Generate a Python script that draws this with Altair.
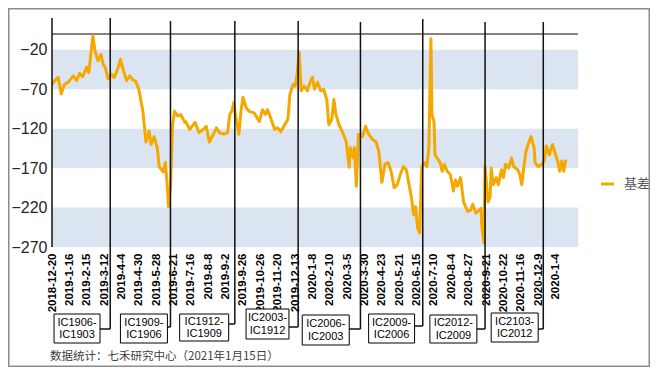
import json
import altair as alt
import pandas as pd

# ---------------- data ----------------
tick_labels = [
    "2018-12-20", "2019-1-16", "2019-2-15", "2019-3-12", "2019-4-4", "2019-4-30",
    "2019-5-28", "2019-6-21", "2019-7-16", "2019-8-8", "2019-9-2", "2019-9-26",
    "2019-10-26", "2019-11-20", "2019-12-13", "2020-1-8", "2020-2-10", "2020-3-5",
    "2020-3-30", "2020-4-23", "2020-5-21", "2020-6-15", "2020-7-10", "2020-8-4",
    "2020-8-27", "2020-9-21", "2020-10-22", "2020-11-16", "2020-12-9", "2020-1-4",
]
tick_step = 17  # trading days between labels

# trading-day index and basis value
day = [0, 3, 6, 9, 12, 16, 21, 24, 27, 30, 34, 36, 38, 40, 42, 45, 48, 50, 52, 55, 58, 61, 65, 67, 70, 73, 76, 79, 82, 85,
       89, 92, 95, 97, 100, 103, 105, 109, 111, 113, 114, 116, 118, 120, 123, 126, 130, 131, 135, 140, 144, 148, 151, 154, 158, 161, 164, 168,
       172, 174, 176, 178, 180, 183, 185, 187, 190, 193, 198, 203, 206, 209, 211, 214, 218, 221, 224, 227, 231, 233, 236, 238, 240, 242, 244, 247, 250, 253, 255, 257,
       260, 263, 266, 269, 271, 274, 276, 278, 281, 284, 288, 291, 292, 295, 296, 298, 300, 304, 307, 310, 314, 317, 320, 323, 326, 329, 332, 335, 338, 341, 344,
       347, 349, 352, 354, 356, 358, 360, 362, 365, 367, 369, 371, 372, 374, 375, 378, 380, 382, 384, 387, 390, 393, 395, 397, 400, 403, 407, 410, 412, 415, 417, 420, 421, 423, 424, 427, 429,
       430, 432, 435, 437, 440, 442, 444, 447, 450, 452, 456, 458, 460, 462, 464, 467, 469, 472, 473, 476, 480, 482, 484, 487, 490, 493, 495, 497, 499, 501, 503]
basis = [-64, -59, -55, -76, -64, -61, -53, -59, -50, -54, -42, -49, -26, -2, -21, -34, -26, -38, -42, -57, -51, -55, -42, -32, -47, -59, -53, -58, -60, -70,
         -98, -137, -123, -140, -130, -144, -168, -175, -163, -195, -219, -195, -115, -98, -104, -102, -112, -111, -121, -112, -125, -121, -117, -137, -127, -119, -125, -127,
         -125, -102, -98, -87, -106, -127, -98, -80, -93, -98, -100, -111, -96, -102, -96, -106, -121, -119, -124, -117, -108, -76, -64, -66, -51, -23, -72, -66, -72, -60, -55, -70,
         -61, -72, -70, -83, -115, -108, -83, -102, -115, -123, -136, -169, -144, -157, -144, -193, -127, -130, -117, -127, -134, -136, -149, -188, -165, -163, -174, -195, -191, -178, -168,
         -172, -187, -208, -229, -219, -246, -252, -168, -163, -168, -144, -6, -102, -111, -153, -159, -163, -174, -165, -174, -178, -199, -185, -193, -182, -213, -225, -223, -216, -227, -225, -221, -246, -265, -168, -213, -206,
         -170, -191, -182, -191, -172, -182, -165, -170, -157, -168, -172, -178, -191, -168, -149, -137, -130, -144, -163, -168, -165, -161, -142, -153, -140, -153, -161, -174, -161, -174, -159]

y_ticks = [-20, -70, -120, -170, -220, -270]
band_lo = [-70, -170, -270]
band_hi = [-20, -120, -220]

# contract roll-over markers
roll_day = [57, 116, 179, 241, 302, 363, 424, 481]
roll_names = ["IC1906-\nIC1903", "IC1909-\nIC1906", "IC1912-\nIC1909", "IC2003-\nIC1912",
              "IC2006-\nIC2003", "IC2009-\nIC2006", "IC2012-\nIC2009", "IC2103-\nIC2012"]

series_name = "基差"
footer = "数据统计：七禾研究中心（2021年1月15日）"

# ---------------- layout (pixels relative to plot area, box edges in day units) ----------------
W, H = 526, 213
roll_top = [-16, -13, -13, -13, -12, -15, -12, -12]
roll_bot = [295, 293, 290, 293, 295, 292, 295, 295]
box_left = [2, 67, 125, 190, 245, 310, 370, 430]
box_right = [47, 113, 173, 232, 291, 355, 416, 476]
box_top = [280, 280, 280, 275, 281, 280, 281, 279]
box_bot = [309, 309, 307, 305, 311, 309, 309, 308]

ORANGE = "#F5A800"
BAND = "#DBE5F1"
FONT = "Liberation Sans"
CJK = "Noto Sans CJK SC"

xscale = alt.Scale(domain=[0, 515], nice=False, zero=False)
yscale = alt.Scale(domain=[-270, 0], nice=False, zero=False)

label_expr = json.dumps(tick_labels) + f"[round(datum.value / {tick_step})]"
tick_vals = [i * tick_step for i in range(len(tick_labels))]

x_axis = alt.Axis(
    values=tick_vals, labelExpr=label_expr, title=None, domain=False, ticks=False,
    grid=False, labelAngle=270, labelFont=FONT, labelFontSize=11.5, labelFontWeight="bold",
    labelColor="#000000", labelPadding=6, labelOverlap=False, labelBound=False, orient="bottom")
y_axis = alt.Axis(
    values=y_ticks, title=None, domain=False, ticks=False, grid=False,
    labelFont=FONT, labelFontSize=16, labelColor="#262626", labelPadding=5, orient="left")

line_df = pd.DataFrame({"day": day, "basis": basis})
band_df = pd.DataFrame({"lo": band_lo, "hi": band_hi})
roll_df = pd.DataFrame({
    "day": roll_day, "name": roll_names, "top": roll_top, "bot": roll_bot,
    "bl": box_left, "br": box_right, "bt": box_top, "bb": box_bot,
})
roll_df["bc"] = (roll_df["bl"] + roll_df["br"]) / 2
roll_df["bm"] = (roll_df["bt"] + roll_df["bb"]) / 2

bands = alt.Chart(band_df).mark_rect(color=BAND).encode(
    x=alt.value(0), x2=alt.value(W),
    y=alt.Y("lo:Q", scale=yscale, axis=y_axis),
    y2="hi:Q",
)

top_rule = alt.Chart(pd.DataFrame({"v": [0]})).mark_rule(color="#595959", strokeWidth=1.5).encode(
    y=alt.Y("v:Q", scale=yscale, axis=y_axis), x=alt.value(0), x2=alt.value(W)
)

line = alt.Chart(line_df).mark_line(color=ORANGE, strokeWidth=3, strokeJoin="round").encode(
    x=alt.X("day:Q", scale=xscale, axis=x_axis),
    y=alt.Y("basis:Q", scale=yscale, axis=y_axis),
)

left_rule = alt.Chart(pd.DataFrame({"v": [0]})).mark_rule(color="#111111", strokeWidth=1.5).encode(
    x=alt.X("v:Q", scale=xscale, axis=x_axis), y=alt.value(-16), y2=alt.value(H)
)

roll_rules = alt.Chart(roll_df).mark_rule(color="#111111", strokeWidth=1.5).encode(
    x=alt.X("day:Q", scale=xscale, axis=x_axis),
    y=alt.Y("top:Q", scale=None), y2="bot:Q",
)

connectors = alt.Chart(roll_df).mark_rule(color="#111111", strokeWidth=1.5).encode(
    x=alt.X("br:Q", scale=xscale, axis=x_axis), x2="day:Q",
    y=alt.Y("bot:Q", scale=None),
)

shadows = alt.Chart(roll_df).mark_rect(fill="#7f7f7f", xOffset=1.5, yOffset=1.5).encode(
    x=alt.X("bl:Q", scale=xscale, axis=x_axis), x2="br:Q",
    y=alt.Y("bt:Q", scale=None), y2="bb:Q",
)

boxes = alt.Chart(roll_df).mark_rect(fill="white", stroke="#000000", strokeWidth=1).encode(
    x=alt.X("bl:Q", scale=xscale, axis=x_axis), x2="br:Q",
    y=alt.Y("bt:Q", scale=None), y2="bb:Q",
)

box_text = alt.Chart(roll_df).mark_text(
    lineBreak="\n", lineHeight=12.5, font=FONT, fontSize=11, color="#000000",
    align="center", baseline="middle", dy=-6,
).encode(
    x=alt.X("bc:Q", scale=xscale, axis=x_axis),
    y=alt.Y("bm:Q", scale=None),
    text="name:N",
)

legend_line = alt.Chart(pd.DataFrame({"v": [0]})).mark_rule(color=ORANGE, strokeWidth=3).encode(
    x=alt.value(549), x2=alt.value(562), y=alt.value(150)
)
legend_text = alt.Chart(pd.DataFrame({"t": [series_name]})).mark_text(
    font=CJK, fontSize=13, color="#595959", align="left", baseline="middle"
).encode(x=alt.value(572), y=alt.value(150), text="t:N")

footer_text = alt.Chart(pd.DataFrame({"t": [footer]})).mark_text(
    font=CJK, fontSize=11.5, color="#404040", align="left", baseline="middle"
).encode(x=alt.value(-2), y=alt.value(323), text="t:N")

border = alt.Chart(pd.DataFrame({"v": [0]})).mark_rect(
    fillOpacity=0, stroke="#8c8c8c", strokeWidth=1.5
).encode(x=alt.value(-43.25), x2=alt.value(597.25), y=alt.value(-25.25), y2=alt.value(332.25))

chart = alt.layer(
    bands, top_rule, line, left_rule, roll_rules, connectors, shadows, boxes, box_text,
    legend_line, legend_text, footer_text, border,
).properties(
    width=W, height=H,
    padding={"left": 44, "top": 26, "right": 72, "bottom": 120},
    autosize="none",
    background="white",
).configure_view(stroke=None)

chart.save("out.html", embed_options={"renderer": "svg", "actions": False})
